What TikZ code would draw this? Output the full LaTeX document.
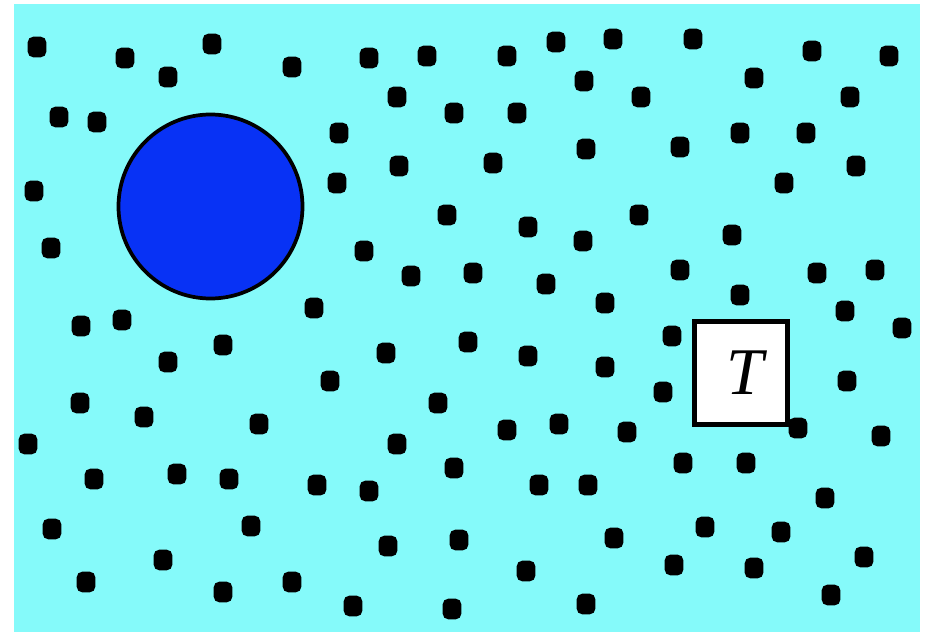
\documentclass[tikz,border=0pt]{standalone}
\usepackage{fontspec}
\setmainfont{Liberation Serif}
\definecolor{bgcyan}{RGB}{133,250,250}
\definecolor{ballblue}{RGB}{8,50,245}
\tikzset{
  particle/.style={fill=black, rounded corners=4.2pt, minimum width=14pt, minimum height=15.5pt, inner sep=0pt, draw=none},
  bigball/.style={circle, fill=ballblue, draw=black, line width=2.8pt, minimum size=138pt, inner sep=0pt},
  tbox/.style={rectangle, fill=white, draw=black, line width=3.6pt, minimum width=70pt, minimum height=77pt, inner sep=0pt}
}
\begin{document}
\begin{tikzpicture}[x=0.75pt,y=-0.75pt]
\useasboundingbox (0,0) rectangle (926,635);
\fill[white] (0,0) rectangle (926,635);
\fill[bgcyan] (14,4) rectangle (920,632);
\foreach \px/\py [count=\i] in {
 37/47,125/58,168/77,212/44,292/67,59/117,97/122,34/191,51/248,
 369/58,427/56,507/56,556/42,613/39,584/81,397/97,454/113,517/113,339/133,586/149,399/166,493/163,337/183,447/215,528/227,583/241,364/251,411/276,473/273,546/284,314/308,605/303,
 693/39,812/51,889/56,754/78,641/97,850/97,740/133,806/133,680/147,856/166,784/183,639/215,732/235,680/270,817/273,875/270,740/295,845/311,
 81/326,122/320,223/345,168/362,80/403,144/417,259/424,28/444,94/479,177/474,229/479,52/529,251/526,163/560,86/582,223/592,292/582,
 386/353,468/342,528/356,605/367,330/381,438/403,507/430,559/424,397/444,454/468,317/485,369/491,539/485,588/485,388/546,459/540,526/571,353/606,452/609,586/604,
 672/336,902/328,663/392,847/381,798/428,627/432,881/436,683/463,746/463,825/498,614/538,705/527,781/532,674/565,754/568,864/557,831/595}
 \node[particle] (p\i) at (\px,\py) {};
\node[bigball] (ball) at (210.5,206.5) {};
\node[tbox] (tb) at (741,373) {};
\node (tl) at (745,373) {\fontsize{50}{52}\selectfont\itshape T};
\end{tikzpicture}
\end{document}
